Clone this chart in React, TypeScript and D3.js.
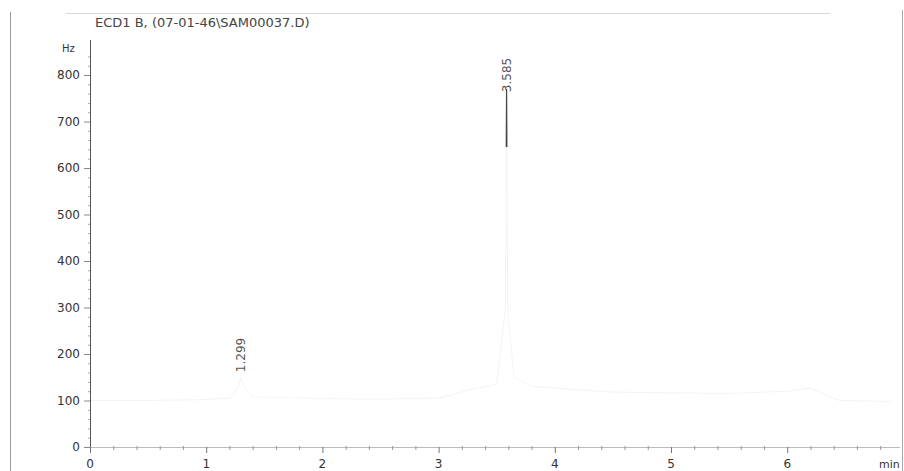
import React from "react"
import * as d3 from "d3"

const width = 904;
const height = 471;
const title = "ECD1 B, (07-01-46\\SAM00037.D)";

// trace (min, Hz)
const times = [0, 0.5, 1.0, 1.2, 1.27, 1.299, 1.33, 1.4, 2.0, 2.5, 3.0, 3.3, 3.5, 3.575, 3.585, 3.595, 3.65, 3.8, 4.5, 5.5, 6.0, 6.2, 6.45, 6.9];
const signal = [100, 100, 102, 105, 125, 150, 128, 108, 104, 103, 105, 125, 135, 300, 770, 290, 150, 130, 118, 115, 120, 127, 100, 98];

const peakTimes = [1.299, 3.585];
const peakLabelHz = [161, 763];

const xTicks = [0, 1, 2, 3, 4, 5, 6];
const yTicks = [0, 100, 200, 300, 400, 500, 600, 700, 800];

const x = d3.scaleLinear().domain([0, 7]).range([90, 903.4]);
const y = d3.scaleLinear().domain([0, 800]).range([447, 75]);

const line = d3.line<number>()
    .x((d, i) => x(times[i]))
    .y(d => y(d));

const font = "DejaVu Sans, sans-serif";

const App = () => {
    const minorX = d3.range(0, 7, 0.2).filter(t => Math.abs(t - Math.round(t)) > 0.01);
    const minorY = d3.range(0, 860, 20).filter(v => v % 100 !== 0);
    return (
        <svg width={width} height={height} style={{ position: "absolute", left: 0, top: 0, background: "#fff" }}
             fontFamily={font}>
            {/* scan frame */}
            <line x1={10.5} y1={12} x2={10.5} y2={471} stroke="#999" />
            <line x1={902.5} y1={10} x2={902.5} y2={471} stroke="#aaa" />
            <line x1={66} y1={13.5} x2={830} y2={13.5} stroke="#d6d6d6" />

            <text x={95} y={27} fontSize={13} fill="#444">{title}</text>
            <text x={62} y={52} fontSize={10} fill="#333">Hz</text>

            <defs>
                <clipPath id="apex">
                    <rect x={0} y={0} width={width} height={y(645)} />
                </clipPath>
            </defs>

            {/* faded trace, only the peak apex survives the scan */}
            <path d={line(signal) ?? ""} fill="none" stroke="#f4f4f4" strokeWidth={1} />
            <path d={line(signal) ?? ""} fill="none" stroke="#444" strokeWidth={1.2} clipPath="url(#apex)" />

            {/* axes */}
            <line x1={90.5} y1={40} x2={90.5} y2={447} stroke="#555" />
            <line x1={90} y1={447.5} x2={900} y2={447.5} stroke="#bbb" />

            {yTicks.map(v => (
                <g key={v}>
                    <line x1={84} x2={90} y1={y(v) + 0.5} y2={y(v) + 0.5} stroke="#888" />
                    <text x={80} y={y(v) + 4} fontSize={12} fill="#333" textAnchor="end">{v}</text>
                </g>
            ))}
            {minorY.map(v => (
                <line key={v} x1={88} x2={90} y1={y(v) + 0.5} y2={y(v) + 0.5} stroke="#aaa" />
            ))}
            {xTicks.map(t => (
                <g key={t}>
                    <line x1={x(t) + 0.5} x2={x(t) + 0.5} y1={447} y2={453} stroke="#777" />
                    <text x={x(t)} y={468} fontSize={12} fill="#333" textAnchor="middle">{t}</text>
                </g>
            ))}
            {minorX.map(t => (
                <line key={t} x1={x(t) + 0.5} x2={x(t) + 0.5} y1={446} y2={450} stroke="#999" />
            ))}
            <text x={879} y={468} fontSize={11} fill="#333">min</text>

            {peakTimes.map((t, i) => (
                <text key={t} transform={`translate(${x(t) + 4},${y(peakLabelHz[i])}) rotate(-90)`}
                      fontSize={12} fill="#555">{t.toFixed(3)}</text>
            ))}
        </svg>
    );
};

export default App
